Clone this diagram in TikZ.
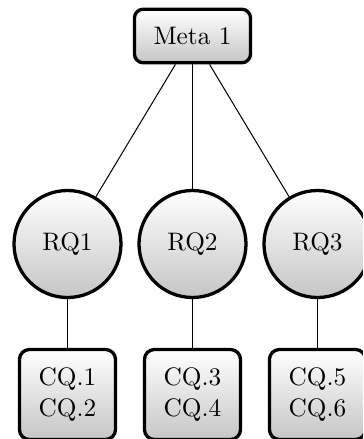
\documentclass[tikz,border=0pt]{standalone}
\tikzset{
  shadedfill/.style={top color=white, bottom color=gray!45, draw=black, line width=1.3pt},
  metabox/.style={shadedfill, rectangle, rounded corners=3.5pt, minimum width=45.9pt, minimum height=21.2pt, inner sep=0pt},
  rqcircle/.style={shadedfill, circle, minimum size=42.3pt, inner sep=0pt},
  cqbox/.style={shadedfill, rectangle, rounded corners=4pt, minimum width=38pt, minimum height=35.6pt, inner sep=0pt, align=center},
  link/.style={draw=black, line width=0.4pt}
}
\begin{document}
\begin{tikzpicture}[x=0.3953pt, y=-0.3953pt]
  \useasboundingbox (0,0) rectangle (363,439);
  \begin{scope}
    \clip (0,0) rectangle (363,439);
    % goal at the top
    \node[metabox] (meta) at (192.5,36) {Meta 1};
    % research questions
    \node[rqcircle] (rq1) at (67.5,244) {RQ1};
    \node[rqcircle] (rq2) at (192.5,244) {RQ2};
    \node[rqcircle] (rq3) at (317.5,244) {RQ3};
    % competency questions
    \node[cqbox] (cq1) at (67.5,394.5) {CQ.1\\CQ.2};
    \node[cqbox] (cq2) at (192.5,394.5) {CQ.3\\CQ.4};
    \node[cqbox] (cq3) at (317.5,394.5) {CQ.5\\CQ.6};
    % connectors
    \draw[link] (meta) -- (rq1);
    \draw[link] (meta) -- (rq2);
    \draw[link] (meta) -- (rq3);
    \draw[link] (rq1) -- (cq1);
    \draw[link] (rq2) -- (cq2);
    \draw[link] (rq3) -- (cq3);
  \end{scope}
\end{tikzpicture}
\end{document}
